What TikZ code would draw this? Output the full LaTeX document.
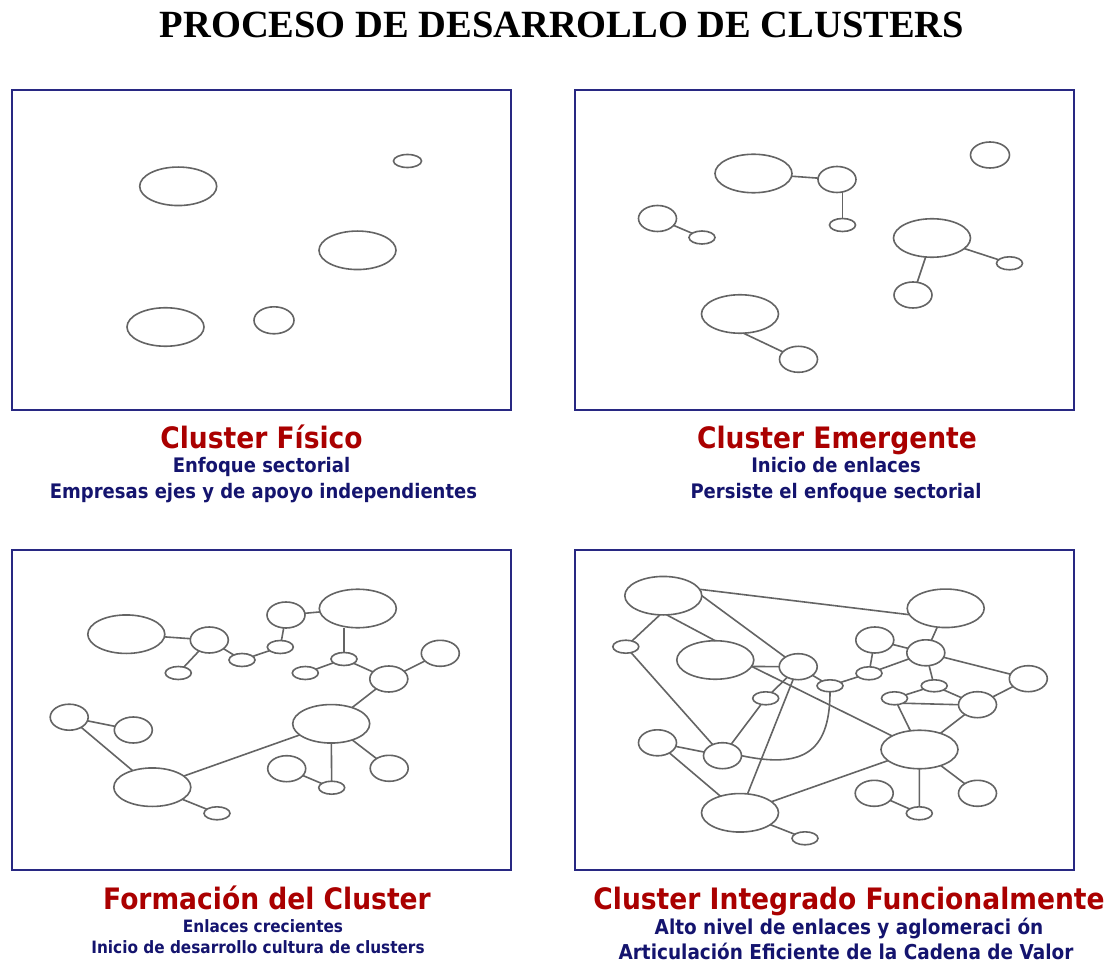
\documentclass[tikz,border=0pt]{standalone}
\usepackage{fontspec}
\usepackage{graphicx}
\usetikzlibrary{shapes.geometric}
\newfontfamily\dvsans{DejaVu Sans}
\newfontfamily\ttitle{Liberation Serif}
\definecolor{framecol}{RGB}{40,40,130}
\definecolor{edgecol}{RGB}{100,100,100}
\definecolor{headred}{RGB}{170,0,0}
\definecolor{subblue}{RGB}{20,20,110}
\newcommand\condtext[1]{\scalebox{0.9}[1]{#1}}
\begin{document}
\begin{tikzpicture}[x=1pt,y=-1pt,
  frame/.style={draw=framecol,line width=2pt},
  nd/.style={draw=edgecol,line width=1.6pt,ellipse,inner sep=0pt,outer sep=0pt},
  big/.style={nd,minimum width=77pt,minimum height=38.5pt},
  med/.style={nd,minimum width=38pt,minimum height=26pt},
  sml/.style={nd,minimum width=26pt,minimum height=13pt},
  cn/.style={draw=edgecol,line width=1.6pt},
  head/.style={text=headred,font=\dvsans\bfseries\fontsize{29.5}{30}\selectfont,anchor=base,inner sep=0pt},
  sub/.style={text=subblue,font=\dvsans\bfseries\fontsize{20}{21}\selectfont,anchor=base,inner sep=0pt},
  subs/.style={text=subblue,font=\dvsans\bfseries\fontsize{17}{18}\selectfont,anchor=base,inner sep=0pt},
  subl/.style={text=subblue,font=\dvsans\bfseries\fontsize{20.5}{21}\selectfont,anchor=base,inner sep=0pt},
]
\fill[white] (0,0) rectangle (1114,965);
\useasboundingbox (0,0) rectangle (1114,965);

% title
\node[anchor=base,inner sep=0pt,font=\ttitle\bfseries\fontsize{38.5}{40}\selectfont] (title) at (562,38) {PROCESO DE DESARROLLO DE CLUSTERS};

% frames
\draw[frame] (12,90) rectangle (511,410);
\draw[frame] (575,90) rectangle (1074,410);
\draw[frame] (12,550) rectangle (511,870);
\draw[frame] (575,550) rectangle (1074,870);

% ---------- panel 1
\node[big] (p1a) at (178.2,186.3) {};
\node[sml,minimum width=28pt] (p1b) at (407.5,161) {};
\node[big] (p1c) at (357.5,250.3) {};
\node[big] (p1d) at (165.5,327) {};
\node[med,minimum width=40pt,minimum height=27pt] (p1e) at (274,320.3) {};

% ---------- panel 2
\node[big] (p2a) at (753.5,173.5) {};
\node[med] (p2b) at (837,179.5) {};
\node[sml] (p2c) at (842.5,225) {};
\node[med,minimum width=39pt] (p2d) at (990,155) {};
\node[med] (p2e) at (657.5,218.5) {};
\node[sml] (p2f) at (702,237.5) {};
\node[big] (p2g) at (932,238) {};
\node[sml] (p2h) at (1009.5,263.3) {};
\node[med] (p2i) at (913,295) {};
\node[big] (p2j) at (740,314) {};
\node[med] (p2k) at (798.5,359.3) {};
\draw[cn] (p2a) -- (p2b);
\draw[cn] (p2c.north) -- (p2c.north |- p2b.south);
\draw[cn] (p2e) -- (p2f);
\draw[cn] (p2g) -- (p2h);
\draw[cn] (p2g) -- (p2i);
\draw[cn] (p2j.-80) -- (p2k);

% ---------- panel 3
\node[big] (p3a) at (126.3,634.2) {};
\node[med] (p3b) at (209.3,640) {};
\node[sml] (p3c) at (178.3,673) {};
\node[sml] (p3d) at (242,660) {};
\node[sml] (p3e) at (280.3,647) {};
\node[med] (p3f) at (286,615) {};
\node[big] (p3g) at (357.8,608.5) {};
\node[sml] (p3h) at (344,659) {};
\node[sml] (p3i) at (305.3,673) {};
\node[med] (p3j) at (388.8,679) {};
\node[med] (p3k) at (440.3,653.3) {};
\node[big] (p3l) at (331.2,723.8) {};
\node[med] (p3m) at (69.2,717.2) {};
\node[med] (p3n) at (133.3,730) {};
\node[big] (p3o) at (152.3,787.2) {};
\node[sml] (p3p) at (217,813.3) {};
\node[med] (p3q) at (286.7,768.7) {};
\node[sml] (p3r) at (331.7,787.7) {};
\node[med] (p3s) at (389.2,768.3) {};
\draw[cn] (p3a) -- (p3b);
\draw[cn] (p3b) -- (p3c);
\draw[cn] (p3b) -- (p3d);
\draw[cn] (p3d) -- (p3e);
\draw[cn] (p3e) -- (p3f);
\draw[cn] (p3f) -- (p3g);
\draw[cn] (p3h.north) -- (p3h.north |- p3g.south);
\draw[cn] (p3h) -- (p3i);
\draw[cn] (p3h) -- (p3j);
\draw[cn] (p3j) -- (p3k);
\draw[cn] (p3j) -- (p3l);
\draw[cn] (p3m) -- (p3n);
\draw[cn] (p3m) -- (p3o);
\draw[cn] (p3o) -- (p3l);
\draw[cn] (p3o) -- (p3p);
\draw[cn] (p3q) -- (p3r);
\draw[cn] (p3l) -- (p3r);
\draw[cn] (p3l) -- (p3s);

% ---------- panel 4
\node[big] (p4a) at (663.3,595.7) {};
\node[big] (p4b) at (945.7,608.3) {};
\node[sml] (p4c) at (625.8,646.7) {};
\node[big] (p4d) at (715.3,660) {};
\node[med] (p4e) at (798.2,666.7) {};
\node[sml,minimum height=12pt] (p4f) at (830,685.8) {};
\node[sml] (p4g) at (869,673.3) {};
\node[med] (p4h) at (874.8,640) {};
\node[med] (p4i) at (925.8,652.8) {};
\node[sml,minimum height=12pt] (p4j) at (934.2,685.8) {};
\node[med] (p4k) at (1028.3,678.7) {};
\node[med] (p4l) at (977.5,704.7) {};
\node[sml] (p4m) at (894.5,698.3) {};
\node[big] (p4n) at (919.5,749.5) {};
\node[sml] (p4o) at (765.7,698.3) {};
\node[med] (p4p) at (722.5,755.7) {};
\node[med] (p4q) at (657.5,742.8) {};
\node[big] (p4r) at (740,812.8) {};
\node[sml] (p4s) at (805,838.3) {};
\node[med] (p4t) at (874.2,793.3) {};
\node[sml] (p4u) at (919.3,813.3) {};
\node[med] (p4v) at (977.5,793.3) {};
\draw[cn] (p4a.10) -- (p4b.190);
\draw[cn] (p4a.-100) -- (p4c);
\draw[cn] (p4a.-80) -- (p4d.north);
\draw[cn] (p4a.east) -- (p4e);
\draw[cn] (p4d.-10) -- (p4e.west);
\draw[cn] (p4e) -- (p4f);
\draw[cn] (p4f) -- (p4g);
\draw[cn] (p4h) -- (p4g);
\draw[cn] (p4h) -- (p4i);
\draw[cn] (p4g) -- (p4i);
\draw[cn] (p4i) -- (p4b);
\draw[cn] (p4i) -- (p4j);
\draw[cn] (p4i) -- (p4k);
\draw[cn] (p4l) -- (p4k);
\draw[cn] (p4j) -- (p4m);
\draw[cn] (p4j) -- (p4l);
\draw[cn] (p4m.-30) -- (p4l.west);
\draw[cn] (p4m) -- (p4n);
\draw[cn] (p4l) -- (p4n);
\draw[cn] (p4e) -- (p4o);
\draw[cn] (p4o) -- (p4p);
\draw[cn] (p4c) -- (p4p);
\draw[cn] (p4q) -- (p4p);
\draw[cn] (p4p.east) .. controls (800,768) and (830,755) .. (p4f.south);
\draw[cn] (p4q) -- (p4r);
\draw[cn] (p4e) -- (p4r);
\draw[cn] (p4d.-10) -- (p4n);
\draw[cn] (p4r) -- (p4n);
\draw[cn] (p4r) -- (p4s);
\draw[cn] (p4t) -- (p4u);
\draw[cn] (p4n) -- (p4u);
\draw[cn] (p4n) -- (p4v);

% ---------- labels
\node[head] (h1) at (261.5,449) {\condtext{Cluster Físico}};
\node[sub] (s1a) at (261.5,472) {\condtext{Enfoque sectorial}};
\node[sub] (s1b) at (263.5,498) {\condtext{Empresas ejes y de apoyo independientes}};
\node[head] (h2) at (837,449) {\condtext{Cluster Emergente}};
\node[sub] (s2a) at (836,472) {\condtext{Inicio de enlaces}};
\node[sub] (s2b) at (836,498) {\condtext{Persiste el enfoque sectorial}};
\node[head] (h3) at (267,909) {\condtext{Formación del Cluster}};
\node[subs] (s3a) at (263,932) {\condtext{Enlaces crecientes}};
\node[subs] (s3b) at (258,953) {\condtext{Inicio de desarrollo cultura de clusters}};
\node[head] (h4) at (849,909) {\condtext{Cluster Integrado Funcionalmente}};
\node[subl] (s4a) at (849,934.5) {\condtext{Alto nivel de enlaces y aglomeraci ón}};
\node[subl] (s4b) at (846,959.5) {\condtext{Articulación Eficiente de la Cadena de Valor}};
\end{tikzpicture}
\end{document}
